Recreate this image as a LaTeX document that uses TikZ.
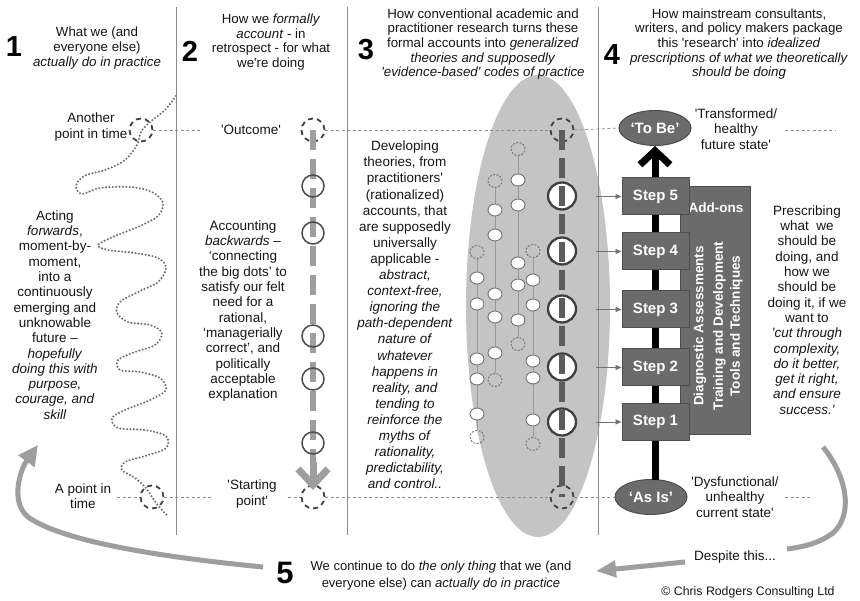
\documentclass[tikz,border=0pt]{standalone}
\usepackage{fontspec}
\setmainfont{Liberation Sans}[Ligatures=TeXOff]
\usetikzlibrary{arrows.meta,shapes.geometric}
\definecolor{ellgray}{HTML}{C4C4C4}
\definecolor{boxgray}{HTML}{6B6B6B}
\definecolor{boxedge}{HTML}{4D4D4D}
\definecolor{arrgray}{HTML}{9E9E9E}
\definecolor{dotgray}{HTML}{6E6E6E}
\definecolor{ink}{HTML}{161616}
\definecolor{linegray}{HTML}{8C8C8C}
\definecolor{darkdash}{HTML}{5C5C5C}
\tikzset{
  txt/.style={inner sep=0pt, align=center, text=ink, font=\fontsize{13.5}{15.3}\selectfont},
  lowtxt/.style={inner sep=0pt, text=ink, font=\fontsize{13}{13}\selectfont, anchor=base},
  hdr/.style={inner sep=0pt, align=center, text=ink, font=\fontsize{13.3}{14.6}\selectfont},
  bignum/.style={inner sep=0pt, text=black, font=\fontsize{29}{29}\selectfont\bfseries},
  divider/.style={draw=linegray, line width=0.8pt},
  refline/.style={draw=linegray, line width=0.7pt, dash pattern=on 3pt off 2.5pt},
  dcirc/.style={circle, draw=black!75, line width=1.8pt, dash pattern=on 5pt off 4pt, minimum size=23pt, inner sep=0pt},
  ocirc/.style={circle, draw=black!70, line width=1.5pt, minimum size=22pt, inner sep=0pt},
  bcirc/.style={ellipse, draw=black!75, fill=white, line width=2.3pt, minimum width=28pt, minimum height=27pt, inner sep=0pt},
  scirc/.style={ellipse, draw=black!55, fill=white, line width=0.9pt, minimum width=14pt, minimum height=12pt, inner sep=0pt},
  sdcirc/.style={ellipse, draw=black!55, line width=0.9pt, dash pattern=on 2pt off 1.5pt, minimum width=14pt, minimum height=13pt, inner sep=0pt},
  colline/.style={draw=black!40, line width=0.7pt},
  stepbox/.style={rectangle, draw=boxedge, fill=boxgray, line width=1pt, minimum width=67pt, minimum height=37pt, text=white, font=\fontsize{15}{15}\selectfont\bfseries, inner sep=0pt},
  statebox/.style={ellipse, draw=boxedge, fill=boxgray, line width=1pt, minimum width=72pt, minimum height=35pt, text=white, font=\fontsize{15}{15}\selectfont\bfseries, inner sep=0pt},
  addtxt/.style={inner sep=0pt, align=center, text=white, font=\fontsize{13.5}{17}\selectfont\bfseries},
  feed/.style={draw=black!55, line width=0.8pt, -{Triangle[length=6pt,width=5pt]}},
  bigarrow/.style={draw=arrgray, line width=5pt},
  dotpath/.style={draw=dotgray, line width=2.3pt, line cap=round, dash pattern=on 0pt off 3.4pt},
}
\begin{document}
\begin{tikzpicture}[x=1pt,y=-1pt]
\useasboundingbox (0,0) rectangle (860,601);
\fill[white] (0,0) rectangle (860,601);

% background ellipse of column 3
\node[ellipse, fill=ellgray, minimum width=144pt, minimum height=462pt, inner sep=0pt] (bgell) at (538,306) {};

% dividers
\coordinate (d1t) at (176,7);  \coordinate (d1b) at (176,535);
\coordinate (d2t) at (347,7);  \coordinate (d2b) at (347,535);
\coordinate (d3t) at (598,7);  \coordinate (d3b) at (598,535);
\draw[divider] (d1t) -- (d1b);
\draw[divider] (d2t) -- (d2b);
\draw[divider] (d3t) -- (d3b);

% headers
\node[bignum] (n1) at (14,47) {1};
\node[hdr] (h1) at (97,48) {What we (and\\everyone else)\\\textit{actually do in practice}};
\node[bignum] (n2) at (190,51) {2};
\node[hdr] (h2) at (271,42) {How we \textit{formally}\\\textit{account} - in\\retrospect - for what\\we're doing};
\node[bignum] (n3) at (366,50) {3};
\node[hdr] (h3) at (483,44) {How conventional academic and\\practitioner research turns these\\formal accounts into \textit{generalized}\\\textit{theories and supposedly}\\\textit{'evidence-based' codes of practice}};
\node[bignum] (n4) at (612,55) {4};
\node[hdr] (h4) at (739,44) {How mainstream consultants,\\writers, and policy makers package\\this 'research' into \textit{idealized}\\\textit{prescriptions of what we theoretically}\\\textit{should be doing}};

% ---------- column 1 ----------
\node[dcirc] (c1top) at (141,130) {};
\node[dcirc] (c1bot) at (152,497) {};
\draw[dotpath] plot[smooth, tension=0.55] coordinates {(176,96) (165,110) (150,122) (141,132) (137,145) (125,160) (105,170) (84,176) (76,186) (82,194) (100,188) (130,187) (152,192) (163,203) (158,216) (140,226) (115,236) (98,245) (108,250) (135,253) (158,258) (166,268) (158,282) (138,292) (120,302) (117,313) (128,322) (150,325) (162,333) (155,345) (135,352) (118,360) (120,370) (140,372) (160,378) (166,390) (150,400) (125,410) (112,418) (118,428) (145,430) (166,436) (166,448) (145,456) (125,462) (122,470) (135,478) (146,488) (152,497) (160,508) (168,516)};
\node[txt] (another) at (91,127) {Another\\point in time};
\node[txt] (apoint) at (83,496) {A point in\\time};
\node[txt] (acting) at (55,315) {Acting\\\textit{forwards},\\moment-by-\\moment,\\into a\\continuously\\emerging and\\unknowable\\future –\\\textit{hopefully}\\\textit{doing this with}\\\textit{purpose,}\\\textit{courage, and}\\\textit{skill}};

% ---------- column 2 ----------
\node[dcirc] (c2top) at (313,130) {};
\node[dcirc] (c2bot) at (313,497) {};
\coordinate (c2a) at (313,462);
\coordinate (c2tip) at (313,490);
\draw[draw=arrgray, line width=6pt, dash pattern=on 20pt off 9pt] (c2top.center) -- (c2a);
\draw[draw=arrgray, line width=7pt, -{Straight Barb[length=16pt,width=30pt]}] (c2a) -- (c2tip);
\foreach \yy/\nm in {186/o1, 233/o2, 336/o3, 379/o4, 443/o5} {
  \node[ocirc] (\nm) at (313,\yy) {};
}
\node[txt] (outcome) at (251,130) {'Outcome'};
\node[txt] (starting) at (252,494) {'Starting\\point'};
\node[txt] (accounting) at (243,311) {Accounting\\\textit{backwards} –\\‘connecting\\the big dots’ to\\satisfy our felt\\need for a\\rational,\\‘managerially\\correct’, and\\politically\\acceptable\\explanation};

% ---------- column 3 ----------
\node[dcirc] (c3top) at (562,130) {};
\node[dcirc] (c3bot) at (562,497) {};
% small circle columns
\node[sdcirc] (at) at (477,252) {}; \node[sdcirc] (ab) at (477,437) {};
\node[sdcirc] (bt) at (495,181) {}; \node[sdcirc] (bb) at (495,380) {};
\node[sdcirc] (ct) at (518,149) {}; \node[sdcirc] (cb) at (518,344) {};
\node[sdcirc] (dt) at (533,251) {}; \node[sdcirc] (db) at (533,444) {};
\draw[colline] (at) -- (ab);
\draw[colline] (bt) -- (bb);
\draw[colline] (ct) -- (cb);
\draw[colline] (dt) -- (db);
\foreach \yy [count=\i] in {278,304,359,379,414} { \node[scirc] (sa\i) at (477,\yy) {}; }
\foreach \yy [count=\i] in {210,235,294,317,353} { \node[scirc] (sb\i) at (495,\yy) {}; }
\foreach \yy [count=\i] in {180,205,263,285,320} { \node[scirc] (sc\i) at (518,\yy) {}; }
\foreach \yy [count=\i] in {280,305,361,378,420} { \node[scirc] (sd\i) at (533,\yy) {}; }
% big circles
\foreach \yy [count=\i] in {196,251,309,367,422} { \node[bcirc] (bc\i) at (562,\yy) {}; }
\draw[draw=darkdash, line width=6pt, dash pattern=on 20pt off 8pt] (c3top.center) -- (c3bot.center);
\node[txt, font=\fontsize{13.5}{16.1}\selectfont] (developing) at (405,315) {Developing\\theories, from\\practitioners'\\(rationalized)\\accounts, that\\are supposedly\\universally\\applicable -\\\textit{abstract,}\\\textit{context-free,}\\\textit{ignoring the}\\\textit{path-dependent}\\\textit{nature of}\\\textit{whatever}\\\textit{happens in}\\\textit{reality, and}\\\textit{tending to}\\\textit{reinforce the}\\\textit{myths of}\\\textit{rationality,}\\\textit{predictability,}\\\textit{and control..}};

% ---------- column 4 ----------
\node[statebox] (tobe) at (655,128) {‘To Be’};
\node[statebox] (asis) at (651,497) {‘As Is’};
\draw[draw=black, line width=7pt, -{Straight Barb[length=14pt,width=30pt]}] (655,480) -- (tobe.south);
\node[rectangle, draw=boxedge, fill=boxgray, line width=1pt, minimum width=70pt, minimum height=248pt, inner sep=0pt] (addbox) at (715,311) {};
\node[addtxt] (addons) at (716,208) {Add-ons};
\node[addtxt, rotate=90] (diag) at (700,326) {Diagnostic Assessments};
\node[addtxt, rotate=90] (train) at (728,326) {Training and Development\\Tools and Techniques};
\foreach \yy/\n in {196.5/5, 251.5/4, 309.5/3, 367.5/2, 422/1} {
  \node[stepbox] (s\n) at (655.5,\yy) {Step \n};
  \coordinate (f\n) at (596,\yy);
  \draw[feed] (f\n) -- (s\n.west);
}
\node[txt] (transformed) at (736,129) {'Transformed/\\healthy\\future state'};
\node[txt] (dysfunctional) at (735,497) {'Dysfunctional/\\unhealthy\\current state'};
\node[txt] (prescribing) at (807,310) {Prescribing\\what~ we\\should be\\doing, and\\how we\\should be\\doing it, if we\\want to\\\textit{'cut through}\\\textit{complexity,}\\\textit{do it better,}\\\textit{get it right,}\\\textit{and ensure}\\\textit{success.'}};

% ---------- reference dashed lines ----------
\coordinate (t1) at (202,130);
\coordinate (t2) at (785,130); \coordinate (t3) at (835,130);
\draw[refline] (c1top.east) -- (t1);
\draw[refline] (c2top.east) -- (c3top.west);
\draw[refline] (c3top.east) -- (tobe.west);
\draw[refline] (t2) -- (t3);
\coordinate (b1) at (117,497); \coordinate (b2) at (212,497); \coordinate (b3) at (288,497);
\coordinate (b4) at (785,497); \coordinate (b5) at (812,497);
\draw[refline] (b1) -- (c1bot.west);
\draw[refline] (c1bot.east) -- (b2);
\draw[refline] (b3) -- (c2bot.west);
\draw[refline] (c2bot.east) -- (c3bot.west);
\draw[refline] (c3bot.east) -- (asis.west);
\draw[refline] (b4) -- (b5);

% ---------- bottom ----------
\node[bignum, font=\fontsize{31}{31}\selectfont\bfseries] (n5) at (285,573) {5};
\node[lowtxt] (cont1) at (441,570) {We continue to do \textit{the only thing} that we (and};
\node[lowtxt] (cont2) at (441,587) {everyone else) can \textit{actually do in practice}};
\node[txt] (despite) at (735,557) {Despite this...};
\node[txt, font=\fontsize{12.3}{14}\selectfont] (copy) at (748,592) {© Chris Rodgers Consulting Ltd};
\coordinate (la) at (263,567);
\coordinate (lb) at (28,517);
\coordinate (ltip) at (38,445);
\draw[bigarrow, -{Triangle[length=20pt,width=19pt]}] (la) .. controls (150,556) and (60,540) .. (lb) .. controls (10,502) and (20,470) .. (ltip);
\coordinate (ra) at (823,447);
\coordinate (rb) at (833,533);
\coordinate (rc) at (787,549);
\draw[bigarrow] (ra) .. controls (848,478) and (853,515) .. (rb) .. controls (818,544) and (802,547) .. (rc);
\coordinate (ba1) at (685,562);
\coordinate (ba2) at (596,571);
\draw[bigarrow, -{Triangle[length=20pt,width=16pt]}] (ba1) -- (ba2);
\end{tikzpicture}
\end{document}
